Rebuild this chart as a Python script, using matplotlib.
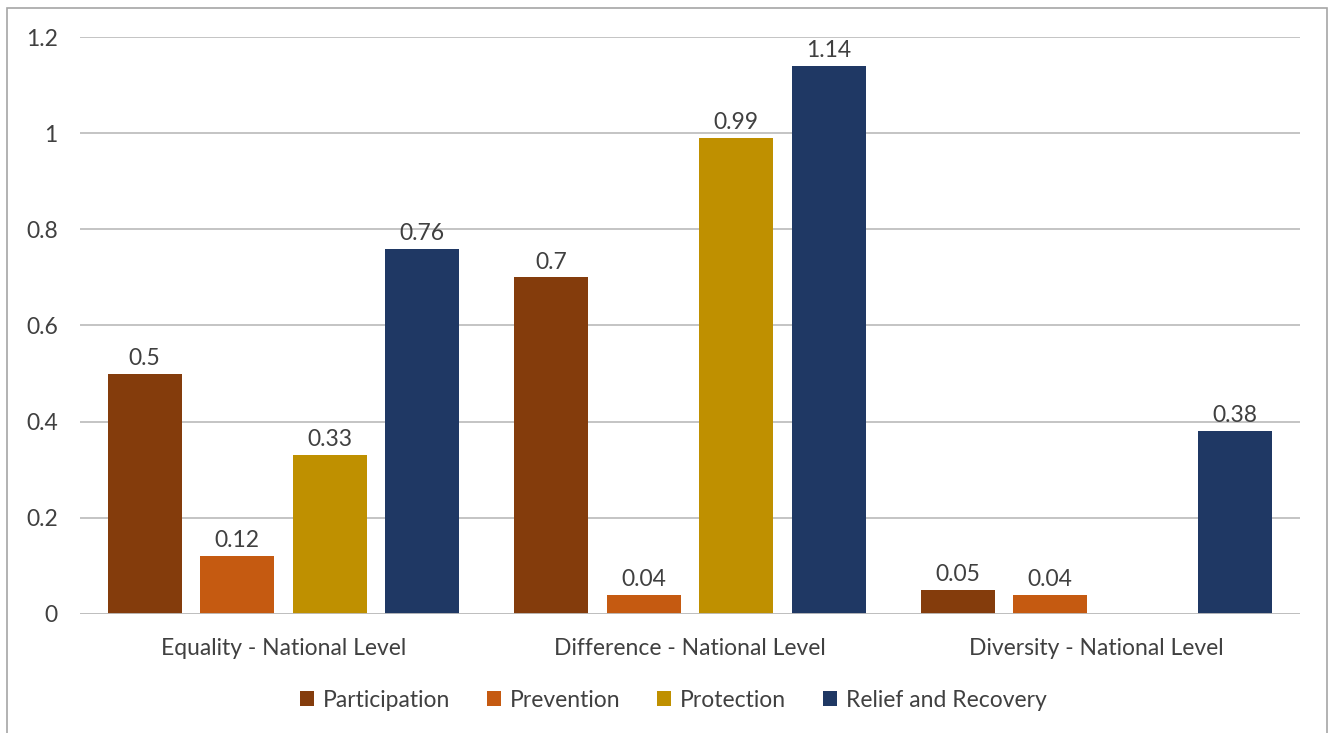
import numpy as np
import matplotlib
matplotlib.use("Agg")
import matplotlib.pyplot as plt
from matplotlib.patches import Rectangle

categories = ["Equality - National Level", "Difference - National Level", "Diversity - National Level"]
series_names = ["Participation", "Prevention", "Protection", "Relief and Recovery"]
participation = [0.5, 0.7, 0.05]
prevention = [0.12, 0.04, 0.04]
protection = [0.33, 0.99, np.nan]
relief_recovery = [0.76, 1.14, 0.38]
y_ticks = [0, 0.2, 0.4, 0.6, 0.8, 1, 1.2]
y_tick_labels = ["0", "0.2", "0.4", "0.6", "0.8", "1", "1.2"]

colors = ["#843C0C", "#C55A11", "#BF9000", "#1F3864"]
text_color = "#404040"
grid_color = "#BFBFBF"
fs = 16.5

plt.rcParams["font.family"] = ["Lato", "DejaVu Sans"]

fig = plt.figure(figsize=(13.33, 7.33), dpi=100)
ax = fig.add_axes([0.060, 0.1624, 0.915, 0.7871])

x = np.arange(len(categories))
slot = 0.2275
width = 0.182
all_series = [participation, prevention, protection, relief_recovery]
for i, (name, vals, c) in enumerate(zip(series_names, all_series, colors)):
    pos = x + (i - 1.5) * slot
    ax.bar(pos, vals, width=width, color=c, label=name, zorder=3)
    for xp, v in zip(pos, vals):
        if np.isnan(v):
            continue
        ax.text(xp, v + 0.01, f"{v:g}", ha="center", va="bottom",
                fontsize=fs, color=text_color)

ax.set_xlim(-0.5, 2.5)
ax.set_ylim(0, 1.2)
ax.set_yticks(y_ticks)
ax.set_yticklabels(y_tick_labels)
ax.set_xticks(x)
ax.set_xticklabels(categories)
ax.tick_params(axis="both", length=0, labelsize=fs, colors=text_color)
ax.tick_params(axis="y", pad=16)
ax.tick_params(axis="x", pad=17)

ax.grid(axis="y", color=grid_color, linewidth=1.3, zorder=0)
for s in ax.spines.values():
    s.set_visible(False)
ax.axhline(0, color=grid_color, linewidth=1.3, zorder=4)

leg = fig.legend(loc="center", bbox_to_anchor=(0.505, 0.045), ncol=4, frameon=False,
                 fontsize=fs, handlelength=0.6, handleheight=0.6, handletextpad=0.4,
                 columnspacing=1.6)
for t in leg.get_texts():
    t.set_color(text_color)

fig.patches.append(Rectangle((7 / 1333, -0.01), 1320 / 1333, 1 - 8 / 733 + 0.01,
                             transform=fig.transFigure, fill=False,
                             edgecolor="#A6A6A6", linewidth=1.2))

fig.savefig("out.png", dpi=100)
